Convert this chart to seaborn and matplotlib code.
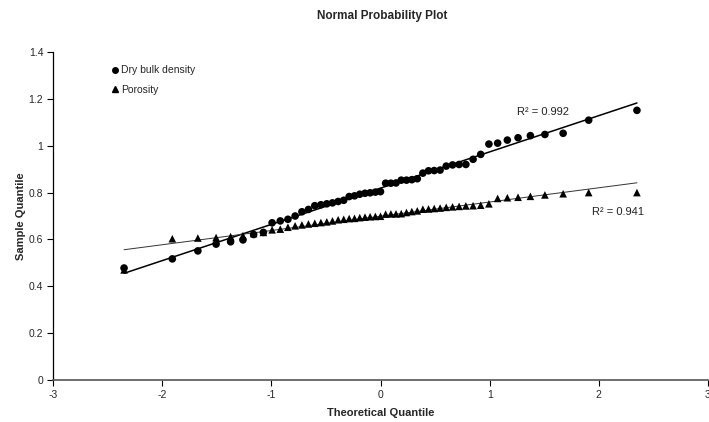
import matplotlib
matplotlib.use("Agg")
import numpy as np
import pandas as pd
import seaborn as sns
import matplotlib.pyplot as plt
from matplotlib.lines import Line2D

# ---- data ----
theoretical_quantile = [
    -2.349, -1.907, -1.673, -1.506, -1.373, -1.260, -1.162, -1.073, -0.993, -0.918,
    -0.848, -0.782, -0.720, -0.660, -0.602, -0.546, -0.492, -0.440, -0.388, -0.337,
    -0.287, -0.238, -0.190, -0.142, -0.095, -0.047, 0.000,
    0.047, 0.095, 0.142, 0.190, 0.238, 0.287, 0.337, 0.388, 0.440, 0.492,
    0.546, 0.602, 0.660, 0.720, 0.782, 0.848, 0.918, 0.993, 1.073, 1.162,
    1.260, 1.373, 1.506, 1.673, 1.907, 2.349,
]
dry_bulk_density = [
    0.478, 0.517, 0.551, 0.580, 0.590, 0.598, 0.621, 0.630, 0.671, 0.679,
    0.686, 0.700, 0.718, 0.728, 0.744, 0.748, 0.752, 0.756, 0.762, 0.767,
    0.783, 0.786, 0.793, 0.797, 0.799, 0.802, 0.804,
    0.840, 0.840, 0.841, 0.853, 0.853, 0.855, 0.859, 0.883, 0.893, 0.894,
    0.896, 0.913, 0.918, 0.920, 0.920, 0.942, 0.963, 1.007, 1.011, 1.024,
    1.034, 1.043, 1.048, 1.053, 1.109, 1.151,
]
porosity = [
    0.470, 0.603, 0.606, 0.608, 0.612, 0.616, 0.625, 0.630, 0.641, 0.644,
    0.652, 0.658, 0.662, 0.666, 0.669, 0.672, 0.675, 0.679, 0.684, 0.686,
    0.689, 0.690, 0.693, 0.695, 0.697, 0.698, 0.699,
    0.708, 0.709, 0.709, 0.710, 0.715, 0.719, 0.722, 0.729, 0.730, 0.732,
    0.734, 0.737, 0.739, 0.741, 0.743, 0.744, 0.746, 0.752, 0.775, 0.778,
    0.780, 0.784, 0.790, 0.795, 0.800, 0.800,
]
series_names = ["Dry bulk density", "Porosity"]
r2_labels = ["R\u00b2 = 0.992", "R\u00b2 = 0.941"]
x_ticks = [-3, -2, -1, 0, 1, 2, 3]
y_ticks = [0, 0.2, 0.4, 0.6, 0.8, 1.0, 1.2, 1.4]

df = pd.DataFrame({
    "Theoretical Quantile": theoretical_quantile * 2,
    "Sample Quantile": dry_bulk_density + porosity,
    "Series": [series_names[0]] * len(dry_bulk_density) + [series_names[1]] * len(porosity),
})

sns.set_theme(style="white")
plt.rcParams["font.family"] = ["Liberation Sans", "DejaVu Sans"]

fig = plt.figure(figsize=(7.09, 4.22), dpi=100)
ax = fig.add_axes([53 / 709, 42 / 422, 655 / 709, 328 / 422])

sns.scatterplot(
    data=df, x="Theoretical Quantile", y="Sample Quantile", hue="Series", style="Series",
    markers={series_names[0]: "o", series_names[1]: "^"},
    palette={series_names[0]: "black", series_names[1]: "black"},
    s=30, edgecolor="none", linewidth=0, ax=ax, legend=False, zorder=3,
)

# linear trendlines from the data
xs = np.array([min(theoretical_quantile), max(theoretical_quantile)])
for vals, lw, col in [(dry_bulk_density, 1.1, "black"), (porosity, 0.7, "#333333")]:
    k, b = np.polyfit(theoretical_quantile, vals, 1)
    sns.lineplot(x=xs, y=k * xs + b, color=col, linewidth=lw, ax=ax, zorder=2)

ax.text(1.25, 1.145, r2_labels[0], fontsize=8, va="center", ha="left", color="#222222")
ax.text(1.94, 0.718, r2_labels[1], fontsize=8, va="center", ha="left", color="#222222")

ax.set_xlim(-3, 3)
ax.set_ylim(0, 1.4)
ax.set_xticks(x_ticks)
ax.set_yticks(y_ticks)
ax.set_xticklabels([f"{v:g}" for v in x_ticks], fontsize=7.5)
ax.set_yticklabels([f"{v:g}" for v in y_ticks], fontsize=7.5)
ax.tick_params(axis="both", direction="out", length=4, width=0.8, color="black",
               left=True, bottom=True, pad=3)

for side in ["top", "right"]:
    ax.spines[side].set_visible(False)
ax.spines["left"].set_color("black")
ax.spines["left"].set_linewidth(0.9)
ax.spines["bottom"].set_color("#555555")
ax.spines["bottom"].set_linewidth(1.2)
ax.grid(False)

ax.set_xlabel("Theoretical Quantile", fontsize=8, fontweight="bold", labelpad=6)
ax.set_ylabel("Sample Quantile", fontsize=8, fontweight="bold", labelpad=2)

fig.suptitle("Normal Probability Plot", x=382 / 709, y=1 - 10 / 422, va="top",
             fontsize=8.5, fontweight="bold")

handles = [
    Line2D([], [], marker="o", linestyle="none", color="black", markersize=4),
    Line2D([], [], marker="^", linestyle="none", color="black", markersize=4),
]
ax.legend(handles, series_names, loc="upper left", bbox_to_anchor=(0.08, 0.972),
          frameon=False, fontsize=7.5, handletextpad=0.1, handlelength=1.0,
          labelspacing=0.9, borderaxespad=0)

fig.savefig("out.png", dpi=100)
